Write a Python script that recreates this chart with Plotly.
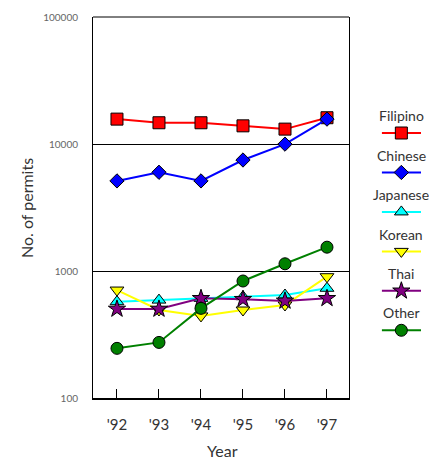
import plotly.graph_objects as go

years = ["'92", "'93", "'94", "'95", "'96", "'97"]
series_names = ["Filipino", "Chinese", "Japanese", "Korean", "Thai", "Other"]
filipino = [15700, 14700, 14700, 13900, 13100, 16100]
chinese = [5120, 5990, 5120, 7480, 9980, 15700]
japanese = [573, 590, 609, 628, 647, 731]
korean = [708, 493, 443, 493, 540, 902]
thai = [502, 502, 609, 599, 581, 609]
other = [246, 274, 508, 834, 1140, 1540]
y_ticks = [100, 1000, 10000, 100000]
y_ticktext = ["100", "1000", "10000", "100000"]

values = [filipino, chinese, japanese, korean, thai, other]
colors = ["#ff0000", "#0000ff", "#00ffff", "#ffff00", "#800080", "#008000"]
symbols = ["square", "diamond", "triangle-up", "triangle-down", "star", "circle"]
msizes = [12, 11, 12, 12, 13, 12]

FONT = "Lato, 'Open Sans', sans-serif"
TXT = "#333333"

fig = go.Figure()
for name, vals, c, s, ms in zip(series_names, values, colors, symbols, msizes):
    fig.add_trace(go.Scatter(
        x=years, y=vals, mode="lines+markers", name=name,
        line=dict(color=c, width=2),
        marker=dict(symbol=s, size=ms, color=c, line=dict(color="black", width=1)),
        showlegend=False, xaxis="x", yaxis="y"))

# custom legend (text above symbol) in right margin area
for i, (name, c, s, ms) in enumerate(zip(series_names, colors, symbols, msizes)):
    fig.add_trace(go.Scatter(x=[0, 1], y=[i, i], mode="lines", line=dict(color=c, width=2),
                             showlegend=False, xaxis="x2", yaxis="y2", hoverinfo="skip"))
    fig.add_trace(go.Scatter(x=[0.5], y=[i], mode="markers",
                             marker=dict(symbol=s, size=ms, color=c, line=dict(color="black", width=1)),
                             showlegend=False, xaxis="x2", yaxis="y2", hoverinfo="skip"))
    fig.add_annotation(x=0.5, y=i - 0.44, xref="x2", yref="y2", text=name, showarrow=False,
                       font=dict(family=FONT, size=14, color=TXT), xanchor="center", yanchor="middle")

W, H = 429, 462
ml, mr, mt, mb = 93, 8, 17, 64
pw = W - ml - mr
ph = H - mt - mb
main_right = (349 - ml) / pw
leg_l = (381.7 - ml) / pw

fig.update_layout(
    width=W, height=H,
    margin=dict(l=ml, r=mr, t=mt, b=mb),
    paper_bgcolor="white", plot_bgcolor="white",
    font=dict(family=FONT, color=TXT),
    xaxis=dict(domain=[0, main_right], type="category", range=[-0.571, 5.524],
               showline=True, linecolor="black", linewidth=2, mirror=False,
               ticks="inside", ticklen=9, tickwidth=1, tickcolor="black",
               showgrid=False, zeroline=False,
               tickfont=dict(family=FONT, size=15, color=TXT), ticklabelstandoff=12),
    yaxis=dict(type="log", range=[2, 5], tickvals=y_ticks, ticktext=y_ticktext,
               showline=True, linecolor="black", linewidth=1, mirror=True,
               ticks="", showgrid=True, gridcolor="black", gridwidth=1, zeroline=False,
               tickfont=dict(family=FONT, size=10, color="#666666"), ticklabelstandoff=12),
    xaxis2=dict(domain=[leg_l, 1], range=[0, 1], visible=False, anchor="y2"),
    yaxis2=dict(domain=[0, 1], range=[6.716, -2.94], visible=False, anchor="x2"),
)

fig.add_shape(type="line", xref="x domain", yref="paper", x0=0, x1=1, y0=1, y1=1,
              line=dict(color="black", width=1))

fig.add_annotation(text="Year", xref="paper", yref="paper", x=(222 - ml) / pw, y=-(451 - 398) / ph,
                   showarrow=False, font=dict(family=FONT, size=16, color=TXT),
                   xanchor="center", yanchor="middle")
fig.add_annotation(text="No. of permits", xref="paper", yref="paper", x=-(93 - 27) / pw,
                   y=(398 - 208) / ph, textangle=-90,
                   showarrow=False, font=dict(family=FONT, size=16, color=TXT),
                   xanchor="center", yanchor="middle")

fig.write_html("out.html", config={"displayModeBar": False},
               post_script="document.body.style.margin='0';document.body.style.padding='0';document.body.style.overflow='hidden';")
